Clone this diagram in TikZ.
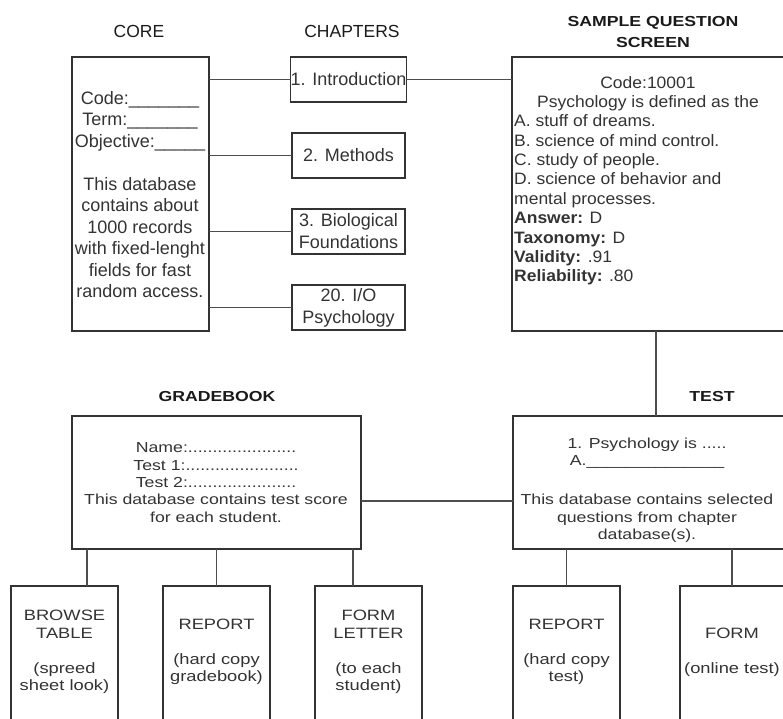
\documentclass[tikz,border=0pt]{standalone}
\usepackage{fontspec}
\setmainfont{Liberation Sans}
\newfontfamily\fA{Liberation Sans}
\newfontfamily\fB[FakeStretch=1.06]{Liberation Sans}
\newfontfamily\fC[FakeStretch=1.22]{Liberation Sans}
\definecolor{ink}{HTML}{333333}
\definecolor{dark}{HTML}{1A1A1A}
\definecolor{wirec}{HTML}{4D4D4D}
\begin{document}
\begin{tikzpicture}[x=1pt,y=-1pt,
  box/.style={draw=ink, line width=1.3pt, inner sep=0pt, outer sep=0pt, rectangle, text=ink, align=center},
  wire/.style={draw=wirec, line width=1.2pt},
  txt/.style={text=ink, inner sep=0pt, align=center},
  topfont/.style={font=\fA\fontsize{18}{22}\selectfont},
  corefont/.style={font=\fA\fontsize{18}{21.5}\selectfont},
  sqsfont/.style={font=\fB\fontsize{16.5}{19.4}\selectfont},
  lowfont/.style={font=\fC\fontsize{14.5}{17.3}\selectfont},
  botfont/.style={font=\fC\fontsize{15}{17.5}\selectfont},
  titlefont/.style={font=\fA\fontsize{17.5}{22}\selectfont, text=dark},
  btitlefont/.style={font=\fC\bfseries\fontsize{14.5}{21}\selectfont, text=dark}]
\useasboundingbox (0,0) rectangle (783,718);
\clip (0,0) rectangle (783,718);
% titles
\node[txt, titlefont] (tcore) at (139,31) {CORE};
\node[txt, titlefont] (tchap) at (352,31) {CHAPTERS};
\node[txt, btitlefont] (tsqs) at (653,32) {SAMPLE QUESTION\\SCREEN};
\node[txt, btitlefont] (tgb) at (217,396) {GRADEBOOK};
\node[txt, btitlefont] (ttest) at (712,396) {TEST};
% core
\node[box, minimum width=137, minimum height=274] (core) at (140.5,194) {};
\node[txt, corefont] (coretxt) at (140,194.5) {Code:\_\_\_\_\_\_\_\\Term:\_\_\_\_\_\_\_\\Objective:\_\_\_\_\_\\[21.5pt]This database\\contains about\\1000 records\\with fixed-lenght\\fields for fast\\random access.};
% chapters
\node[box, topfont, minimum width=113, minimum height=45] (ch1) at (348.5,79.5) {1. Introduction};
\node[box, topfont, minimum width=113, minimum height=45] (ch2) at (348.5,155.5) {2. Methods};
\node[box, topfont, minimum width=113, minimum height=45] (ch3) at (348.5,231.5) {3. Biological\\Foundations};
\node[box, topfont, minimum width=113, minimum height=45] (ch4) at (348.5,307.5) {20. I/O\\Psychology};
% sample question screen
\node[box, minimum width=273, minimum height=274] (sqs) at (648.5,194) {};
\node[txt, sqsfont] (sqs1) at (648,94) {Code:10001\\Psychology is defined as the};
\node[txt, sqsfont, align=left, anchor=west] (sqs2) at (514,200) {A. stuff of dreams.\\B. science of mind control.\\C. study of people.\\D. science of behavior and\\mental processes.\\\textbf{Answer:} D\\\textbf{Taxonomy:} D\\\textbf{Validity:} .91\\\textbf{Reliability:} .80};
% gradebook
\node[box, minimum width=289, minimum height=133] (gb) at (216.5,482.5) {};
\node[txt, lowfont] (gbtxt) at (216,482.5) {Name:......................\\Test 1:.......................\\Test 2:......................\\This database contains test score\\for each student.};
% test
\node[box, minimum width=272, minimum height=133] (test) at (649,482.5) {};
\node[txt, lowfont] (testtxt) at (647,490) {1. Psychology is .....\\A.\_\_\_\_\_\_\_\_\_\_\_\_\_\_\\[22pt]This database contains selected\\questions from chapter\\database(s).};
% bottom boxes
\node[box, botfont, minimum width=107, minimum height=149] (b1) at (64.5,660.5) {};
\node[txt, botfont] (b1t) at (64.5,652) {BROWSE\\TABLE\\[17.5pt](spreed\\sheet look)};
\node[box, botfont, minimum width=107, minimum height=149] (b2) at (216.5,660.5) {};
\node[txt, botfont] (b2t) at (216.5,652) {REPORT\\[17.5pt](hard copy\\gradebook)};
\node[box, botfont, minimum width=107, minimum height=149] (b3) at (368.5,660.5) {};
\node[txt, botfont] (b3t) at (368.5,652) {FORM\\LETTER\\[17.5pt](to each\\student)};
\node[box, botfont, minimum width=107, minimum height=149] (b4) at (566.5,660.5) {};
\node[txt, botfont] (b4t) at (566.5,652) {REPORT\\[17.5pt](hard copy\\test)};
\node[box, botfont, minimum width=107, minimum height=149] (b5) at (733.5,660.5) {};
\node[txt, botfont] (b5t) at (732,652.5) {FORM\\[17.5pt](online test)};
% connectors
\draw[wire] (ch1.west -| core.east) -- (ch1.west);
\draw[wire] (ch2.west -| core.east) -- (ch2.west);
\draw[wire] (ch3.west -| core.east) -- (ch3.west);
\draw[wire] (ch4.west -| core.east) -- (ch4.west);
\draw[wire] (ch1.east) -- (ch1.east -| sqs.west);
\draw[wire] ([xshift=7.5pt]sqs.south) -- ([xshift=7.5pt]sqs.south |- test.north);
\draw[wire] ([yshift=-18.5pt]gb.east) -- ([yshift=-18.5pt]gb.east -| test.west);
\draw[wire] ([xshift=22.5pt]b1.north) -- ([xshift=22.5pt]b1.north |- gb.south);
\draw[wire] (b2.north) -- (b2.north |- gb.south);
\draw[wire] ([xshift=-15.5pt]b3.north) -- ([xshift=-15.5pt]b3.north |- gb.south);
\draw[wire] (b4.north) -- (b4.north |- test.south);
\draw[wire] ([xshift=-1.5pt]b5.north) -- ([xshift=-1.5pt]b5.north |- test.south);
\end{tikzpicture}
\end{document}
